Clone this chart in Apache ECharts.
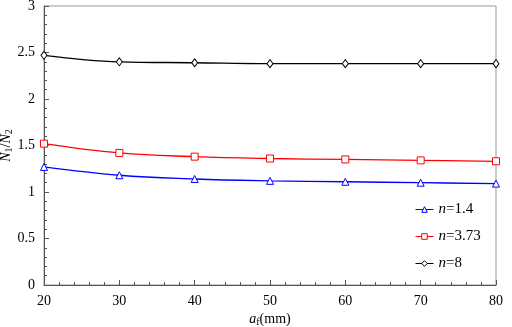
<!DOCTYPE html>
<html><head><meta charset="utf-8">
<script src="https://cdn.jsdelivr.net/npm/echarts@6/dist/echarts.min.js"></script>
<style>html,body{margin:0;padding:0;background:#fff}#c{width:512px;height:327px}</style>
</head><body><div id="c"></div>
<script>
const xVals = [20, 30, 40, 50, 60, 70, 80];
const n14 = [1.27, 1.18, 1.14, 1.12, 1.11, 1.10, 1.09];
const n373 = [1.52, 1.42, 1.38, 1.36, 1.35, 1.34, 1.33];
const n8 = [2.47, 2.40, 2.39, 2.38, 2.38, 2.38, 2.38];
const seriesNames = ['n=1.4', 'n=3.73', 'n=8'];
const seriesColors = ['#0000ff', '#ff0000', '#000000'];
const seriesSymbols = ['triangle', 'rect', 'diamond'];
const seriesData = [n14, n373, n8];

const font = 'Liberation Serif';
const chart = echarts.init(document.getElementById('c'));
chart.setOption({
  animation: false,
  grid: {left: 44, right: 16, top: 6, bottom: 42, show: true, borderColor: '#999', borderWidth: 1,
         containLabel: false, outerBoundsMode: 'none'},
  legend: {
    orient: 'vertical', left: 410, top: 197, itemGap: 12, itemWidth: 18, itemHeight: 7,
    data: seriesNames.map((nm, k) => ({
      name: nm,
      itemStyle: {color: '#fff', borderColor: seriesColors[k], borderWidth: 1},
      lineStyle: {color: seriesColors[k], width: 1}
    })),
    formatter: function(name){ return '{i|n}' + name.slice(1); },
    textStyle: {fontFamily: font, fontSize: 15, color: '#000',
      rich: {i: {fontStyle: 'italic', fontFamily: font, fontSize: 15, color: '#000'}}}
  },
  xAxis: {
    type: 'value', min: 20, max: 80, interval: 10,
    axisLine: {lineStyle: {color: '#555', width: 1}},
    axisTick: {inside: true, length: 5, lineStyle: {color: '#555'}},
    minorTick: {show: true, splitNumber: 5, length: 3, lineStyle: {color: '#555'}},
    splitLine: {show: false},
    axisLabel: {fontFamily: font, fontSize: 14, color: '#000', margin: 9},
    name: '{i|a}{s|f}(mm)', nameLocation: 'middle', nameGap: 26, nameMoveOverlap: false,
    nameTextStyle: {fontFamily: font, fontSize: 14, color: '#000',
      rich: {i: {fontStyle: 'italic', fontFamily: font, fontSize: 14, color: '#000'},
             s: {fontFamily: font, fontSize: 10, color: '#000', verticalAlign: 'bottom', padding: [6, 0, 0, 0]}}}
  },
  yAxis: {
    type: 'value', min: 0, max: 3, interval: 0.5,
    axisLine: {lineStyle: {color: '#555', width: 1}},
    axisTick: {inside: true, length: 5, lineStyle: {color: '#555'}},
    minorTick: {show: true, splitNumber: 5, length: 3, lineStyle: {color: '#555'}},
    splitLine: {show: false},
    axisLabel: {fontFamily: font, fontSize: 14, color: '#000', margin: 9},
    name: '{i|N}{s|1}/{i|N}{s|2}', nameLocation: 'middle', nameGap: 30, nameRotate: 90, nameMoveOverlap: false,
    nameTextStyle: {fontFamily: font, fontSize: 14, color: '#000',
      rich: {i: {fontStyle: 'italic', fontFamily: font, fontSize: 14, color: '#000'},
             s: {fontFamily: font, fontSize: 10, color: '#000', verticalAlign: 'bottom', padding: [6, 0, 0, 0]}}}
  },
  series: seriesNames.map((nm, k) => ({
    name: nm, type: 'line', smooth: 0.4,
    data: xVals.map((x, i) => [x, seriesData[k][i]]),
    symbol: seriesSymbols[k], symbolSize: k === 2 ? [6, 8] : 7,
    lineStyle: {color: seriesColors[k], width: 1.3},
    itemStyle: {color: '#fff', borderColor: seriesColors[k], borderWidth: 1}
  }))
});
</script></body></html>
